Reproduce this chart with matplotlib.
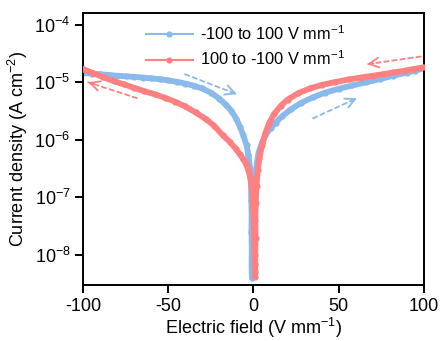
import matplotlib
matplotlib.use("Agg")
import matplotlib.pyplot as plt
import numpy as np

plt.rcParams['font.family'] = ['Liberation Sans', 'DejaVu Sans']
plt.rcParams['mathtext.fontset'] = 'custom'
plt.rcParams['mathtext.rm'] = 'Liberation Sans'
plt.rcParams['mathtext.it'] = 'Liberation Sans'
plt.rcParams['axes.unicode_minus'] = False

# Forward sweep: -100 -> 100 V/mm
fwd_field = [-100, -95, -90, -85, -80, -75, -70, -65, -60, -55, -50, -45, -40,
             -35, -30, -25, -20, -16, -13, -10, -8, -6, -4, -3, -2, -1.5,
             -1.3, -1.1, -1.2, -1.0, -1.1, -0.9, -0.6, -0.3, -0.1, 0.2, 0.5,
             1.0, 2, 3, 5, 7, 10, 13, 17, 22, 28, 35, 42, 50, 58, 66, 74, 82,
             90, 95, 100]
fwd_current = [1.45e-5, 1.42e-5, 1.38e-5, 1.34e-5, 1.30e-5, 1.27e-5, 1.24e-5,
               1.21e-5, 1.17e-5, 1.13e-5, 1.08e-5, 1.02e-5, 9.5e-6, 8.7e-6,
               7.8e-6, 6.6e-6, 5.2e-6, 4.0e-6, 3.2e-6, 2.3e-6, 1.7e-6, 1.2e-6,
               8.0e-7, 5.5e-7, 3.2e-7, 1.8e-7, 9e-8, 5e-8, 2.5e-8, 1.3e-8,
               6e-9, 4e-9, 8e-9, 1.6e-8, 3e-8, 6e-8, 1.1e-7, 2.2e-7, 4e-7,
               6e-7, 9e-7, 1.2e-6, 1.6e-6, 2.0e-6, 2.6e-6, 3.4e-6, 4.4e-6,
               5.5e-6, 6.6e-6, 7.7e-6, 8.8e-6, 1.0e-5, 1.13e-5, 1.3e-5,
               1.47e-5, 1.6e-5, 1.75e-5]

# Reverse sweep: 100 -> -100 V/mm
rev_field = [100, 94, 88, 82, 76, 70, 63, 56, 48, 40, 33, 26, 20, 16, 12, 9,
             7, 5, 3.5, 2.5, 1.8, 1.3, 1.1, 1.2, 1.0, 1.1, 0.9, 0.7, 0.5, 0.3,
             0.0, -0.4, -1, -2, -3, -4, -6, -8, -10, -14, -18, -23, -28, -34,
             -40, -46, -52, -58, -64, -70, -76, -82, -88, -94, -100]
rev_current = [1.82e-5, 1.7e-5, 1.58e-5, 1.48e-5, 1.38e-5, 1.3e-5, 1.21e-5,
               1.12e-5, 1.01e-5, 9.0e-6, 7.8e-6, 6.4e-6, 5.0e-6, 3.9e-6,
               2.8e-6, 1.9e-6, 1.3e-6, 8e-7, 4.8e-7, 3e-7, 1.6e-7, 8e-8, 4e-8,
               2e-8, 1e-8, 5e-9, 4.2e-9, 7e-9, 1.4e-8, 2.8e-8, 5e-8, 9e-8,
               1.5e-7, 2.3e-7, 3e-7, 3.6e-7, 4.6e-7, 5.6e-7, 6.8e-7, 9.3e-7,
               1.2e-6, 1.75e-6, 2.3e-6, 3.0e-6, 3.8e-6, 4.6e-6, 5.4e-6,
               6.2e-6, 7.0e-6, 8.0e-6, 9.2e-6, 1.05e-5, 1.22e-5, 1.44e-5,
               1.7e-5]

labels = ['-100 to 100 V mm$^{-1}$', '100 to -100 V mm$^{-1}$']
blue = '#8ab9ec'
red = '#ff8080'

fig = plt.figure(figsize=(4.4, 3.41), dpi=100)
ax = fig.add_axes([0.1886, 0.1642, 0.775, 0.7977])

ax.plot(rev_field, rev_current, color=red, lw=4.2, marker='o', ms=3.5,
        solid_capstyle='round', zorder=3)
ax.plot(fwd_field, fwd_current, color=blue, lw=4.2, marker='o', ms=3.5,
        solid_capstyle='round', zorder=2)

# legend handles drawn thin with a small dot
h1, = ax.plot([], [], color=blue, lw=1.5, marker='o', ms=3.5)
h2, = ax.plot([], [], color=red, lw=1.5, marker='o', ms=3.5)
ax.legend([h1, h2], labels, loc='upper left', bbox_to_anchor=(0.15, 1.0),
          frameon=False, fontsize=11.8, handlelength=2.9, handletextpad=0.4,
          labelspacing=0.4, borderaxespad=0.3)

# sweep direction arrows (dashed shaft, solid open head)
arrows = [
    ((-40.2, 1.38e-5), (-9.7, 6.2e-6), blue),
    ((34.9, 2.36e-6), (60.7, 5.3e-6), blue),
    ((98.2, 2.8e-5), (66.6, 2.06e-5), red),
    ((-68.3, 5.3e-6), (-97.0, 1.0e-5), red),
]
for start, end, c in arrows:
    ax.annotate('', xy=end, xytext=start,
                arrowprops=dict(arrowstyle='-', color=c, lw=1.3,
                                linestyle=(0, (2.5, 2)), shrinkA=0, shrinkB=0))
    # short solid stub carrying the open head
    fx = end[0] + 0.12 * (start[0] - end[0])
    fy = 10 ** (np.log10(end[1]) + 0.12 * (np.log10(start[1]) - np.log10(end[1])))
    ax.annotate('', xy=end, xytext=(fx, fy),
                arrowprops=dict(arrowstyle='->,head_length=0.7,head_width=0.35',
                                color=c, lw=1.3, shrinkA=0, shrinkB=0))

ax.set_yscale('log')
ax.set_xlim(-100, 100)
ax.set_ylim(3e-9, 1.6e-4)
ax.set_xticks([-100, -50, 0, 50, 100])
ax.set_yticks([1e-8, 1e-7, 1e-6, 1e-5, 1e-4])
ax.yaxis.set_minor_locator(matplotlib.ticker.NullLocator())
ax.tick_params(axis='both', which='major', direction='out', length=6,
               width=1.4, labelsize=13, pad=3)
for s in ax.spines.values():
    s.set_linewidth(1.4)

ax.set_xlabel('Electric field (V mm$^{-1}$)', fontsize=13, labelpad=1)
ax.set_ylabel('Current density (A cm$^{-2}$)', fontsize=13, labelpad=3)

fig.savefig('out.png', dpi=100)
